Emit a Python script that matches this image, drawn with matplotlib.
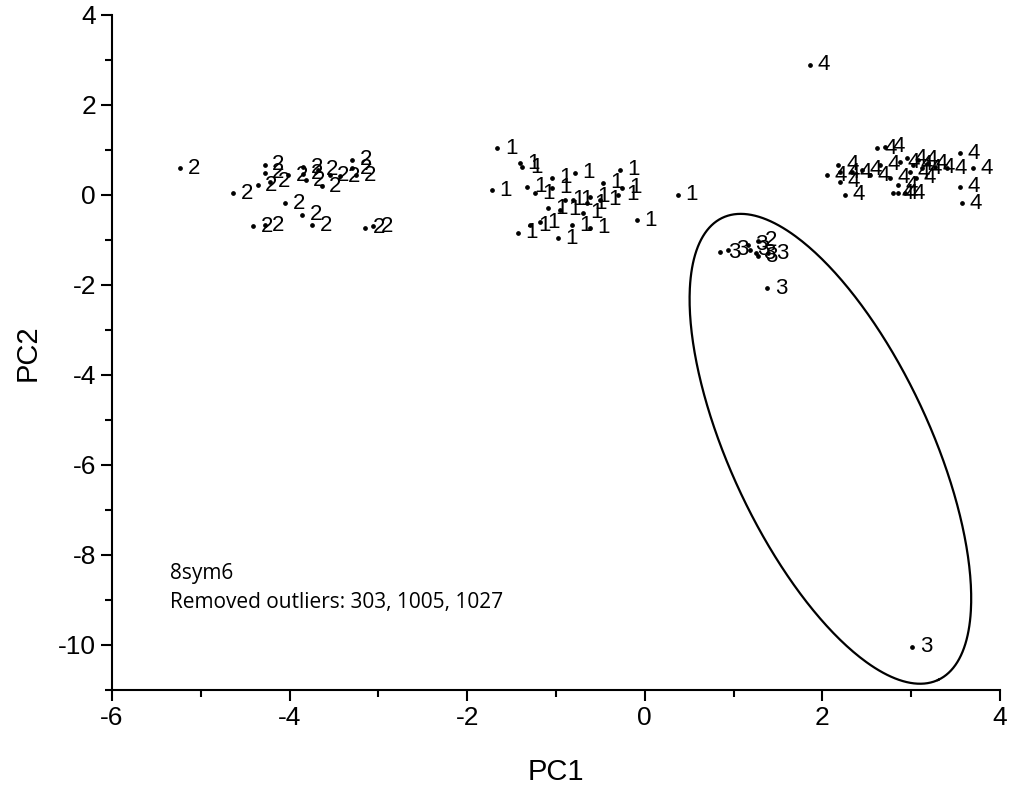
import matplotlib.pyplot as plt
import numpy as np
from matplotlib.ticker import MultipleLocator

plt.rcParams['font.family'] = ['Liberation Sans', 'DejaVu Sans']
plt.rcParams['axes.unicode_minus'] = False

# group 1
x1 = [-1.66, -1.41, -1.38, -1.72, -1.33, -1.24, -1.05, -1.05, -0.79, -1.09,
      -0.90, -0.81, -1.43, -1.29, -1.18, -0.98, -0.82, -0.47, -0.28, -0.30,
      0.37, -0.09, -0.62, -0.65, -0.62, -0.26, -0.70, -0.50, -0.95]
y1 = [1.04, 0.71, 0.62, 0.11, 0.18, 0.04, 0.38, 0.16, 0.49, -0.29,
      -0.11, -0.11, -0.84, -0.67, -0.60, -0.96, -0.67, 0.27, 0.56, 0.00,
      0.00, -0.56, -0.73, -0.18, -0.04, 0.16, -0.40, -0.11, -0.33]

# group 2
x2 = [-5.23, -4.64, -4.28, -4.28, -4.36, -4.22, -4.05, -4.02, -3.85, -3.85,
      -3.82, -3.68, -3.64, -3.55, -3.43, -3.30, -3.30, -3.25, -3.86, -4.41,
      -4.28, -3.75, -3.15, -3.06, 1.27]
y2 = [0.60, 0.04, 0.67, 0.49, 0.22, 0.29, -0.18, 0.44, 0.62, 0.47,
      0.33, 0.56, 0.20, 0.44, 0.42, 0.78, 0.60, 0.44, -0.44, -0.69,
      -0.67, -0.67, -0.73, -0.69, -1.02]

# group 3
x3 = [0.85, 0.94, 1.16, 1.18, 1.25, 1.27, 1.39, 1.38, 3.01]
y3 = [-1.27, -1.22, -1.11, -1.22, -1.29, -1.36, -1.29, -2.07, -10.04]

# group 4
x4 = [1.86, 2.61, 2.70, 2.18, 2.05, 2.20, 2.25, 2.20, 2.33, 2.45,
      2.54, 2.76, 2.80, 2.85, 2.93, 2.65, 2.87, 2.95, 3.02, 3.08,
      3.12, 3.19, 3.27, 2.99, 3.05, 3.40, 3.55, 3.70, 3.55, 3.57, 2.85]
y4 = [2.89, 1.04, 1.07, 0.67, 0.44, 0.29, 0.00, 0.51, 0.51, 0.56,
      0.44, 0.38, 0.04, 0.04, 0.04, 0.67, 0.73, 0.82, 0.67, 0.78,
      0.60, 0.71, 0.62, 0.51, 0.38, 0.60, 0.93, 0.60, 0.18, -0.18, 0.22]

groups = [('1', x1, y1), ('2', x2, y2), ('3', x3, y3), ('4', x4, y4)]

# ellipse around group 3 (center in data, axes in pixels)
ell_cx, ell_cy = 2.09, -5.64
ell_a, ell_b, ell_ang = 255, 100, -65

fig = plt.figure(figsize=(10.13, 7.9), dpi=100)
ax = fig.add_axes([112 / 1013, 100 / 790, 888 / 1013, 675 / 790])

for lab, xs, ys in groups:
    ax.plot(xs, ys, 'o', color='black', markersize=2.4, linestyle='none')
    for xv, yv in zip(xs, ys):
        ax.annotate(lab, (xv, yv), xytext=(5.5, 0), textcoords='offset points',
                    ha='left', va='center', fontsize=16)

# ellipse in pixel-like units
px_x = 888 / 10
px_y = 675 / 15
t = np.linspace(0, 2 * np.pi, 400)
phi = np.deg2rad(ell_ang)
du = ell_a * np.cos(t) * np.cos(phi) - ell_b * np.sin(t) * np.sin(phi)
dv = ell_a * np.cos(t) * np.sin(phi) + ell_b * np.sin(t) * np.cos(phi)
ax.plot(ell_cx + du / px_x, ell_cy + dv / px_y, color='black', lw=1.6)

ax.set_xlim(-6, 4)
ax.set_ylim(-11, 4)
ax.spines[['right', 'top']].set_visible(False)
ax.spines[['left', 'bottom']].set_linewidth(1.5)
ax.xaxis.set_major_locator(MultipleLocator(2))
ax.xaxis.set_minor_locator(MultipleLocator(1))
ax.yaxis.set_major_locator(MultipleLocator(2))
ax.yaxis.set_minor_locator(MultipleLocator(1))
ax.tick_params(which='major', direction='out', length=8, width=1.5, labelsize=19)
ax.tick_params(which='minor', direction='out', length=5, width=1.5)
ax.set_xlabel('PC1', fontsize=21, labelpad=20)
ax.set_ylabel('PC2', fontsize=21, labelpad=12)

ax.text(0.065, 0.173, '8sym6', transform=ax.transAxes, fontsize=15,
        family=['Open Sans', 'DejaVu Sans'], va='center')
ax.text(0.065, 0.129, 'Removed outliers: 303, 1005, 1027', transform=ax.transAxes,
        fontsize=15, family=['Open Sans', 'DejaVu Sans'], va='center')

fig.savefig('out.png', dpi=100)
